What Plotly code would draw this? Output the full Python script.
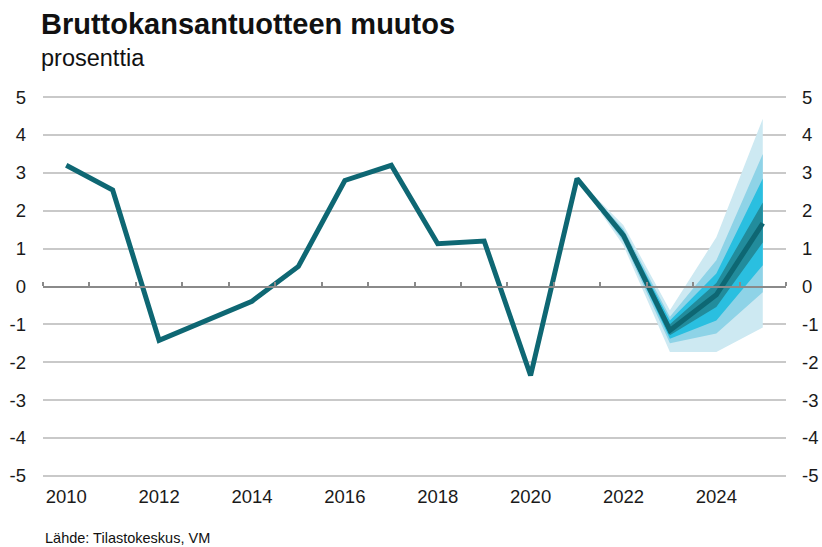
import plotly.graph_objects as go

# ---- data ----
years = [2010, 2011, 2012, 2013, 2014, 2015, 2016, 2017, 2018, 2019, 2020, 2021, 2022, 2023, 2024, 2025]
gdp_change = [3.2, 2.55, -1.42, -0.9, -0.39, 0.53, 2.8, 3.2, 1.13, 1.2, -2.35, 2.85, 1.35, -1.16, -0.22, 1.67]

fan_years = [2021, 2022, 2023, 2024, 2025]
light_upper = [2.85, 1.62, -0.63, 1.3, 4.43]
light_lower = [2.85, 1.08, -1.73, -1.73, -1.08]
medium_upper = [2.85, 1.52, -0.8, 0.69, 3.5]
medium_lower = [2.85, 1.18, -1.5, -1.24, -0.15]
cyan_upper = [2.85, 1.46, -0.9, 0.34, 2.85]
cyan_lower = [2.85, 1.24, -1.38, -0.9, 0.56]
dark_upper = [2.85, 1.41, -1.0, 0.09, 2.22]
dark_lower = [2.85, 1.29, -1.29, -0.54, 1.16]

x_tick_vals = [2010, 2012, 2014, 2016, 2018, 2020, 2022, 2024]
x_tick_text = ["2010", "2012", "2014", "2016", "2018", "2020", "2022", "2024"]
y_tick_vals = [5, 4, 3, 2, 1, 0, -1, -2, -3, -4, -5]
y_tick_text = ["5", "4", "3", "2", "1", "0", "-1", "-2", "-3", "-4", "-5"]

FONT = "Liberation Sans, Arial, sans-serif"
XR = [2009.5, 2025.5]
YR = [-5.03, 5.03]

fig = go.Figure()

bands = [
    (light_upper, light_lower, "#cde9f2"),
    (medium_upper, medium_lower, "#8ed3e7"),
    (cyan_upper, cyan_lower, "#2abfe0"),
    (dark_upper, dark_lower, "#228c9c"),
]
for up, lo, col in bands:
    fig.add_trace(go.Scatter(
        x=fan_years + fan_years[::-1],
        y=up + lo[::-1],
        fill="toself", fillcolor=col, mode="none",
        hoverinfo="skip", showlegend=False,
    ))

fig.add_trace(go.Scatter(
    x=years, y=gdp_change, mode="lines",
    line=dict(color="#0e6773", width=5, shape="linear"),
    showlegend=False,
))

# invisible helper traces so overlay axes render
fig.add_trace(go.Scatter(x=years, y=gdp_change, xaxis="x2", yaxis="y",
                         mode="lines", line=dict(width=0), opacity=0,
                         hoverinfo="skip", showlegend=False))
fig.add_trace(go.Scatter(x=years, y=gdp_change, xaxis="x", yaxis="y2",
                         mode="lines", line=dict(width=0), opacity=0,
                         hoverinfo="skip", showlegend=False))

fig.update_layout(
    width=822, height=547,
    margin=dict(l=43, r=36, t=96, b=70, autoexpand=False),
    paper_bgcolor="white", plot_bgcolor="white",
    font=dict(family=FONT, color="#1a1a1a"),
    xaxis=dict(range=XR, tickvals=x_tick_vals, ticktext=x_tick_text,
               showgrid=False, zeroline=False, showline=False, ticks="",
               tickfont=dict(size=18.5, color="#1a1a1a"), ticklabelstandoff=6,
               automargin=False, fixedrange=True),
    xaxis2=dict(range=XR, overlaying="x", anchor="free", position=0.5, side="top",
                showline=True, linecolor="#8a8a8a", linewidth=2,
                ticks="outside", ticklen=4, tickwidth=1.5, tickcolor="#8a8a8a",
                tick0=2009.5, dtick=1, showticklabels=False, automargin=False,
                showgrid=False, zeroline=False, layer="above traces"),
    yaxis=dict(range=YR, tickvals=y_tick_vals, ticktext=y_tick_text,
               showgrid=True, gridcolor="#c9c9c9", gridwidth=1.5,
               zeroline=False, showline=False, ticks="", automargin=False,
               tickfont=dict(size=18.5, color="#1a1a1a"), ticklabelstandoff=16),
    yaxis2=dict(range=YR, overlaying="y", side="right", anchor="x",
                tickvals=y_tick_vals, ticktext=y_tick_text, automargin=False,
                showgrid=False, zeroline=False, showline=False, ticks="",
                tickfont=dict(size=18.5, color="#1a1a1a"), ticklabelstandoff=15),
    annotations=[
        dict(text="<b>Bruttokansantuotteen muutos</b>", xref="paper", yref="paper",
             x=-0.006, y=(477 - 24) / 381, xanchor="left", yanchor="middle",
             showarrow=False, font=dict(size=29, family=FONT, color="#111111")),
        dict(text="prosenttia", xref="paper", yref="paper",
             x=-0.006, y=(477 - 58) / 381, xanchor="left", yanchor="middle",
             showarrow=False, font=dict(size=23.5, family=FONT, color="#111111")),
        dict(text="Lähde: Tilastokeskus, VM", xref="paper", yref="paper",
             x=0.0, y=(477 - 538) / 381, xanchor="left", yanchor="middle",
             showarrow=False, font=dict(size=14.5, family=FONT, color="#111111")),
    ],
)

fig.write_html("out.html", config={"displayModeBar": False},
               post_script="document.body.style.margin='0';document.body.style.padding='0';")
